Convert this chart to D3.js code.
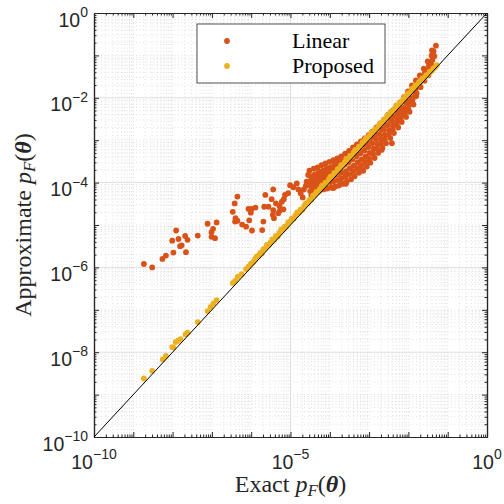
<!DOCTYPE html>
<html>
<head>
<meta charset="utf-8">
<script src="https://cdn.jsdelivr.net/npm/d3@7"></script>
<style>
  body { margin: 0; background: #fff; }
  svg { display: block; }
</style>
</head>
<body>
<svg id="chart" width="504" height="504"></svg>
<script>
// Points are [log10 exact pF, log10 approximate pF].
const linearPoints = [
  [-8.73,-5.92],[-8.52,-6.00],[-8.26,-5.80],[-8.17,-5.72],[-7.98,-5.65],[-8.01,-5.37],
  [-7.91,-5.13],[-7.85,-5.33],[-7.81,-5.50],[-7.77,-5.48],[-7.68,-5.26],[-7.62,-5.35],
  [-7.66,-5.64],[-7.36,-5.25],[-7.11,-4.97],[-6.88,-4.94],[-6.97,-5.09],[-7.01,-5.17],
  [-7.01,-5.28],[-6.92,-5.31],
  [-6.35,-4.33],[-6.42,-4.49],[-6.47,-4.69],[-6.40,-4.84],[-6.35,-4.90],[-6.41,-4.92],
  [-6.23,-4.99],[-6.13,-5.04],[-6.07,-4.62],[-5.99,-4.62],[-5.89,-4.59],[-6.01,-4.71],
  [-6.05,-4.89],[-5.98,-5.13],[-5.72,-5.12],[-5.69,-4.92],[-5.67,-4.57],[-5.56,-4.57],
  [-5.64,-4.29],[-5.44,-4.16],[-5.45,-4.76],[-5.42,-4.84],[-5.44,-4.65],[-5.48,-4.39],
  [-5.37,-4.49],[-5.28,-4.55],[-5.22,-4.45],[-5.17,-4.39],[-5.14,-4.29],[-5.27,-4.66],
  [-5.18,-4.63],[-5.31,-4.72],[-5.06,-4.25],[-5.01,-4.06],[-4.93,-4.11],[-4.84,-4.02],
  [-4.80,-4.16],[-4.74,-4.25],[-4.69,-4.35],[-4.66,-4.16],[-4.61,-4.08],[-4.55,-3.82],
  [-4.50,-3.98],[-4.44,-4.06],[-4.40,-3.90],[-4.35,-3.96],[-4.32,-3.84],[-4.27,-3.78],
  [-4.23,-3.90],[-4.18,-3.82],[-4.14,-3.73],[-4.10,-3.86],[-4.06,-3.70],[-4.01,-3.78],
  [-3.97,-3.64],[-3.93,-3.70],[-3.87,-3.58],[-3.83,-3.66],[-3.78,-3.54],
  [-4.59,-3.98],[-3.91,-4.13],[-3.70,-4.02],[-3.59,-4.03],[-3.15,-3.72],[-2.68,-3.23],[-2.42,-3.07],
  // dense upper cloud
  [-4.52,-3.72],[-4.49,-3.85],[-4.51,-3.97],[-4.48,-4.08],[-4.50,-4.20],[-4.47,-4.29],
  [-4.41,-3.67],[-4.38,-3.80],[-4.42,-3.93],[-4.39,-4.03],[-4.40,-4.15],[-4.37,-4.24],
  [-4.31,-3.64],[-4.28,-3.75],[-4.32,-3.88],[-4.29,-4.01],[-4.30,-4.11],[-4.27,-4.20],
  [-4.21,-3.59],[-4.18,-3.72],[-4.22,-3.83],[-4.19,-3.96],[-4.20,-4.07],[-4.16,-4.16],
  [-4.11,-3.55],[-4.08,-3.66],[-4.12,-3.80],[-4.09,-3.92],[-4.10,-4.04],[-4.07,-4.14],
  [-4.01,-3.51],[-3.98,-3.64],[-4.02,-3.75],[-3.99,-3.88],[-4.00,-4.01],[-3.97,-4.12],
  [-3.91,-3.47],[-3.88,-3.59],[-3.92,-3.72],[-3.89,-3.84],[-3.90,-3.97],[-3.86,-4.09],
  [-3.81,-3.43],[-3.78,-3.56],[-3.82,-3.68],[-3.79,-3.81],[-3.80,-3.94],[-3.77,-4.07],
  [-3.71,-3.38],[-3.68,-3.50],[-3.72,-3.64],[-3.69,-3.77],[-3.70,-3.90],[-3.66,-4.03],
  [-3.61,-3.32],[-3.58,-3.45],[-3.62,-3.58],[-3.59,-3.73],[-3.60,-3.86],[-3.57,-3.98],
  [-3.51,-3.25],[-3.48,-3.39],[-3.52,-3.52],[-3.49,-3.66],[-3.50,-3.80],[-3.46,-3.92],
  [-3.41,-3.17],[-3.38,-3.31],[-3.42,-3.45],[-3.39,-3.60],[-3.40,-3.73],[-3.37,-3.85],
  [-3.31,-3.10],[-3.28,-3.24],[-3.32,-3.38],[-3.29,-3.52],[-3.30,-3.66],[-3.26,-3.77],
  [-3.21,-3.03],[-3.18,-3.17],[-3.22,-3.31],[-3.19,-3.45],[-3.20,-3.59],[-3.17,-3.70],
  [-3.11,-2.96],[-3.08,-3.10],[-3.12,-3.24],[-3.09,-3.38],[-3.10,-3.51],[-3.06,-3.62],
  [-3.01,-2.88],[-2.98,-3.02],[-3.02,-3.16],[-2.99,-3.30],[-3.00,-3.43],[-2.97,-3.53],
  [-2.91,-2.79],[-2.88,-2.93],[-2.92,-3.07],[-2.89,-3.20],[-2.90,-3.32],[-2.86,-3.42],
  [-2.81,-2.70],[-2.78,-2.84],[-2.82,-2.97],[-2.79,-3.09],[-2.80,-3.20],[-2.77,-3.30],
  [-2.71,-2.61],[-2.68,-2.74],[-2.72,-2.87],[-2.69,-2.98],[-2.70,-3.09],[-2.66,-3.18],
  [-2.61,-2.51],[-2.58,-2.64],[-2.62,-2.76],[-2.59,-2.88],[-2.60,-2.98],[-2.57,-3.07],
  [-2.51,-2.40],[-2.48,-2.53],[-2.52,-2.65],[-2.49,-2.77],[-2.50,-2.87],[-2.46,-2.95],
  [-2.41,-2.31],[-2.38,-2.43],[-2.42,-2.55],[-2.39,-2.66],[-2.40,-2.75],[-2.37,-2.83],
  [-2.31,-2.22],[-2.28,-2.33],[-2.32,-2.44],[-2.29,-2.54],[-2.30,-2.63],[-2.26,-2.70],
  [-2.21,-2.11],[-2.18,-2.22],[-2.22,-2.32],[-2.19,-2.42],[-2.20,-2.50],[-2.17,-2.57],
  [-2.11,-1.98],[-2.08,-2.09],[-2.12,-2.20],[-2.09,-2.30],[-2.10,-2.38],[-2.06,-2.45],
  [-2.01,-1.85],[-1.98,-1.96],[-2.02,-2.07],[-1.99,-2.17],[-2.00,-2.26],[-1.97,-2.33],
  [-1.91,-1.71],[-1.88,-1.82],[-1.92,-1.93],[-1.89,-2.03],[-1.90,-2.11],[-1.87,-2.16],
  [-1.81,-1.59],[-1.78,-1.70],[-1.82,-1.80],[-1.79,-1.89],[-1.80,-1.96],
  [-1.71,-1.47],[-1.68,-1.57],[-1.72,-1.66],[-1.69,-1.75],
  [-1.61,-1.31],[-1.58,-1.41],[-1.62,-1.51],[-1.59,-1.60],
  [-1.51,-1.14],[-1.48,-1.25],[-1.52,-1.36],[-1.49,-1.47],
  [-1.41,-1.00],[-1.39,-1.11],[-1.42,-1.22],[-1.40,-1.33],
  [-1.36,-0.90],[-1.34,-1.02],[-1.30,-0.77],[-1.40,-0.88]
];

const proposedPoints = [
  [-8.73,-8.62],[-8.52,-8.44],[-8.25,-8.17],[-8.17,-8.09],[-8.01,-7.88],[-7.98,-7.89],
  [-7.92,-7.76],[-7.86,-7.73],[-7.80,-7.69],[-7.67,-7.58],[-7.62,-7.54],[-7.36,-7.29],
  [-7.11,-7.03],[-7.03,-6.93],[-6.96,-6.85],[-6.88,-6.77],[-6.47,-6.37],[-6.41,-6.32],
  [-6.34,-6.22],[-6.24,-6.16],[-6.13,-6.04],[-6.07,-5.98],[-6.01,-5.92],[-5.95,-5.87],
  [-5.90,-5.80],[-5.86,-5.74],[-5.81,-5.73],[-5.77,-5.66],[-5.73,-5.67],[-5.69,-5.57],
  [-5.64,-5.55],[-5.60,-5.47],[-5.55,-5.48],[-5.51,-5.41],[-5.46,-5.34],[-5.42,-5.34],
  [-5.37,-5.26],[-5.33,-5.27],[-5.28,-5.18],[-5.24,-5.11],[-5.19,-5.11],[-5.15,-5.04],
  [-5.10,-5.03],[-5.06,-4.94],[-5.01,-4.92],[-4.97,-4.85],[-4.92,-4.85],[-4.88,-4.78],
  [-4.83,-4.70],[-4.79,-4.71],[-4.74,-4.63],[-4.70,-4.64],[-4.65,-4.55],[-4.61,-4.49],
  [-4.56,-4.48],[-4.52,-4.41],[-4.47,-4.40],[-4.43,-4.31],[-4.38,-4.29],[-4.34,-4.22],
  [-4.29,-4.22],[-4.25,-4.15],[-4.20,-4.07],[-4.16,-4.08],[-4.11,-4.00],[-4.07,-4.01],
  [-4.02,-3.92],[-3.98,-3.86],[-3.93,-3.85],[-3.89,-3.78],[-3.84,-3.77],[-3.80,-3.68],
  [-3.75,-3.66],[-3.71,-3.59],[-3.66,-3.59],[-3.62,-3.52],[-3.57,-3.44],[-3.53,-3.45],
  [-3.48,-3.37],[-3.44,-3.38],[-3.39,-3.29],[-3.35,-3.23],[-3.30,-3.22],[-3.26,-3.15],
  [-3.21,-3.14],[-3.17,-3.05],[-3.12,-3.03],[-3.08,-2.96],[-3.03,-2.96],[-2.99,-2.89],
  [-2.94,-2.81],[-2.90,-2.82],[-2.85,-2.74],[-2.81,-2.75],[-2.76,-2.66],[-2.72,-2.60],
  [-2.67,-2.59],[-2.63,-2.52],[-2.58,-2.51],[-2.54,-2.42],[-2.49,-2.40],[-2.45,-2.33],
  [-2.40,-2.33],[-2.36,-2.26],[-2.31,-2.18],[-2.27,-2.19],[-2.22,-2.11],[-2.18,-2.12],
  [-2.13,-2.03],[-2.09,-1.97],[-2.04,-1.96],[-2.00,-1.89],[-1.95,-1.88],[-1.91,-1.79],
  [-1.86,-1.77],[-1.82,-1.71],[-1.77,-1.70],[-1.73,-1.63],[-1.68,-1.60],[-1.64,-1.54],
  [-1.59,-1.53],[-1.55,-1.47],[-1.50,-1.45],[-1.46,-1.39],[-1.41,-1.37],[-1.37,-1.31],
  [-1.32,-1.28],[-1.28,-1.23]
];

const seriesNames = ["Linear", "Proposed"];
const seriesColors = ["#D95319", "#EDB120"];
const xLabelExps = [-10, -5, 0];
const yLabelExps = [-10, -8, -6, -4, -2, 0];
const decadeExps = d3.range(-10, 1);
const diagonal = [1e-10, 1];

const svg = d3.select("#chart");
const x = d3.scaleLog().domain([1e-10, 1]).range([94, 487]);
const y = d3.scaleLog().domain([1e-10, 1]).range([437, 13]);
const [x0, x1] = x.range();
const [y0, y1] = y.range();

const minorVals = [];
decadeExps.slice(0, -1).forEach(k => {
  for (let m = 2; m <= 9; m++) minorVals.push(m * Math.pow(10, k));
});
const xMajor = xLabelExps.map(e => Math.pow(10, e));
const yMajor = yLabelExps.map(e => Math.pow(10, e));
const xDecMinor = decadeExps.filter(e => !xLabelExps.includes(e)).map(e => Math.pow(10, e));
const yDecMinor = decadeExps.filter(e => !yLabelExps.includes(e)).map(e => Math.pow(10, e));

// grid
const grid = svg.append("g");
const minorGridStyle = sel => sel.attr("stroke", "#d2d2d2").attr("stroke-width", 0.7)
  .attr("stroke-dasharray", "1,2.5").attr("fill", "none");
grid.selectAll(".gxm").data(minorVals.concat(xDecMinor)).join("line")
  .attr("x1", d => x(d)).attr("x2", d => x(d)).attr("y1", y0).attr("y2", y1).call(minorGridStyle);
grid.selectAll(".gym").data(minorVals.concat(yDecMinor)).join("line")
  .attr("y1", d => y(d)).attr("y2", d => y(d)).attr("x1", x0).attr("x2", x1).call(minorGridStyle);
grid.selectAll(".gxM").data(xMajor.slice(1, -1)).join("line")
  .attr("x1", d => x(d)).attr("x2", d => x(d)).attr("y1", y0).attr("y2", y1)
  .attr("stroke", "#dedede").attr("stroke-width", 1);
grid.selectAll(".gyM").data(yMajor.slice(1, -1)).join("line")
  .attr("y1", d => y(d)).attr("y2", d => y(d)).attr("x1", x0).attr("x2", x1)
  .attr("stroke", "#dedede").attr("stroke-width", 1);

// axes with inward ticks on all four sides
const axisColor = "#262626";
function drawAxis(axisFn, scale, tx, ty, vals, size) {
  const g = svg.append("g").attr("transform", `translate(${tx},${ty})`)
    .call(axisFn(scale).tickValues(vals).tickSize(-size).tickSizeOuter(0).tickFormat(""));
  g.selectAll("line").attr("stroke", axisColor).attr("stroke-width", 1);
  g.select(".domain").attr("stroke", axisColor).attr("stroke-width", 1.2);
  g.selectAll("text").remove();
  return g;
}
[[d3.axisBottom, x, 0, y0], [d3.axisTop, x, 0, y1]].forEach(([f, s, tx, ty]) => {
  drawAxis(f, s, tx, ty, xMajor.concat(xDecMinor), 5);
  drawAxis(f, s, tx, ty, minorVals, 2.5);
});
[[d3.axisLeft, y, x0, 0], [d3.axisRight, y, x1, 0]].forEach(([f, s, tx, ty]) => {
  drawAxis(f, s, tx, ty, yMajor.concat(yDecMinor), 5);
  drawAxis(f, s, tx, ty, minorVals, 2.5);
});

// tick labels as 10^e
const tickFont = "'Liberation Sans', Arial, sans-serif";
svg.append("g").selectAll("text").data(xLabelExps).join("text")
  .attr("x", d => x(Math.pow(10, d))).attr("y", 469)
  .attr("text-anchor", "middle").attr("font-family", tickFont).attr("fill", axisColor)
  .each(function (d) {
    const t = d3.select(this);
    t.append("tspan").attr("font-size", 19.5).text("10");
    t.append("tspan").attr("font-size", 14).attr("dy", -10).text(d < 0 ? "\u2212" + (-d) : String(d));
  });
svg.append("g").selectAll("text").data(yLabelExps).join("text")
  .attr("x", 88).attr("y", d => y(Math.pow(10, d)) + 13.5)
  .attr("text-anchor", "end").attr("font-family", tickFont).attr("fill", axisColor)
  .each(function (d) {
    const t = d3.select(this);
    t.append("tspan").attr("font-size", 19.5).text("10");
    t.append("tspan").attr("font-size", 14).attr("dy", -9.5).text(d < 0 ? "\u2212" + (-d) : String(d));
  });

// axis titles
const serif = "'Liberation Serif', 'Times New Roman', serif";
function pfLabel(t, prefix) {
  t.append("tspan").text(prefix + " ");
  t.append("tspan").attr("font-style", "italic").text("p");
  t.append("tspan").attr("font-style", "italic").attr("font-size", 17).attr("dy", 4).text("F");
  t.append("tspan").attr("dy", -4).text("(");
  t.append("tspan").attr("font-style", "italic").attr("font-weight", "bold").text("\u03B8");
  t.append("tspan").text(")");
}
svg.append("text").attr("x", (x0 + x1) / 2).attr("y", 492)
  .attr("text-anchor", "middle").attr("font-family", serif).attr("font-size", 24)
  .attr("fill", axisColor).call(t => pfLabel(t, "Exact"));
svg.append("text").attr("transform", `translate(31,${(y0 + y1) / 2}) rotate(-90)`)
  .attr("text-anchor", "middle").attr("font-family", serif).attr("font-size", 24)
  .attr("fill", axisColor).call(t => pfLabel(t, "Approximate"));

// scatter series
const dotR = 2.9;
const plot = svg.append("g");
[linearPoints, proposedPoints].forEach((pts, i) => {
  plot.append("g").selectAll("circle").data(pts).join("circle")
    .attr("cx", d => x(Math.pow(10, d[0])))
    .attr("cy", d => y(Math.pow(10, d[1])))
    .attr("r", dotR)
    .attr("fill", seriesColors[i]);
});

// y = x reference line
plot.append("line")
  .attr("x1", x(diagonal[0])).attr("y1", y(diagonal[0]))
  .attr("x2", x(diagonal[1])).attr("y2", y(diagonal[1]))
  .attr("stroke", "#000").attr("stroke-width", 1);

// legend
const lg = svg.append("g");
lg.append("rect").attr("x", 197).attr("y", 24).attr("width", 188).attr("height", 59)
  .attr("fill", "#fff").attr("stroke", axisColor).attr("stroke-width", 0.8);
seriesNames.forEach((name, i) => {
  const cy = 41 + i * 25;
  lg.append("circle").attr("cx", 227).attr("cy", cy).attr("r", dotR).attr("fill", seriesColors[i]);
  lg.append("text").attr("x", 292).attr("y", cy + 6.5)
    .attr("font-family", serif).attr("font-size", 22).attr("fill", "#000").text(name);
});
</script>
</body>
</html>
